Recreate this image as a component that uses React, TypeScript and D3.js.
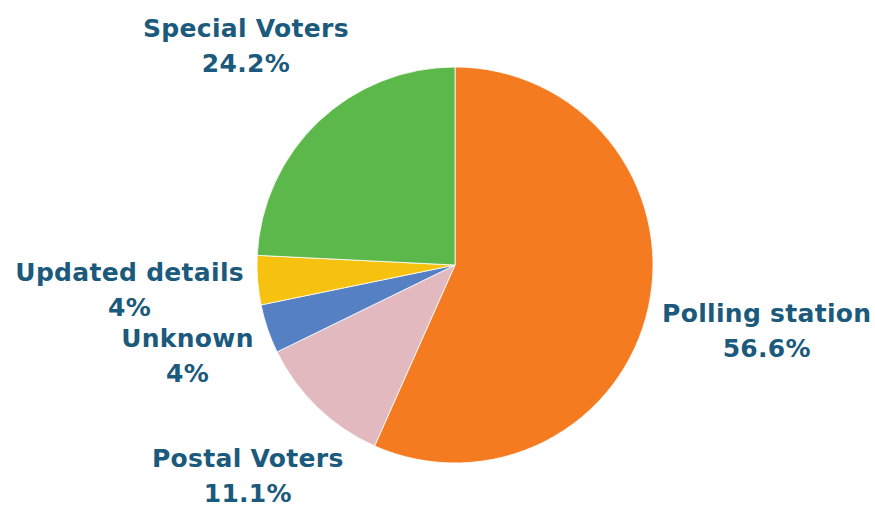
import React, { useEffect, useRef } from 'react';
import * as d3 from 'd3';

const categories = ['Polling station', 'Postal Voters', 'Unknown', 'Updated details', 'Special Voters'];
const shares = [56.6, 11.1, 4, 4, 24.2];
const sliceColors = ['#f47b20', '#e3b9c0', '#5581c4', '#f7c10f', '#5cb84a'];

const width = 875;
const height = 509;

export default function App() {
  const svgRef = useRef<SVGSVGElement>(null);

  useEffect(() => {
    if (!svgRef.current) return;
    const svg = d3.select(svgRef.current);
    svg.selectAll('*').remove();

    const cx = 455;
    const cy = 265;
    const radius = 198;

    const data = categories.map((name, i) => ({ name, value: shares[i], color: sliceColors[i] }));

    const pie = d3.pie<any>()
      .value(d => d.value)
      .sort(null);

    const arc = d3.arc<any>()
      .innerRadius(0)
      .outerRadius(radius);

    const g = svg.append('g')
      .attr('transform', `translate(${cx}, ${cy})`);

    const arcs = pie(data);

    g.selectAll('path')
      .data(arcs)
      .enter()
      .append('path')
      .attr('d', arc)
      .attr('fill', d => d.data.color)
      .attr('stroke', '#ffffff')
      .attr('stroke-width', 0.8);

    // Labels: two lines, pushed outward along the slice's mid angle
    // until the text block clears the pie edge
    const lineGap = 35;
    arcs.forEach(a => {
      const mid = (a.startAngle + a.endAngle) / 2;
      const dx = Math.sin(mid);
      const dy = -Math.cos(mid);

      const label = g.append('g');
      const t = label.append('text')
        .attr('text-anchor', 'middle')
        .style('font-family', '"DejaVu Sans", sans-serif')
        .style('font-weight', 700)
        .style('font-size', '25px')
        .style('letter-spacing', '0.3px')
        .style('fill', '#1b5a7c');

      t.append('tspan')
        .attr('x', 0)
        .attr('y', -lineGap / 2)
        .attr('dy', '0.35em')
        .text(a.data.name);
      t.append('tspan')
        .attr('x', 0)
        .attr('y', lineGap / 2)
        .attr('dy', '0.35em')
        .text(`${a.data.value}%`);

      const box = (t.node() as SVGTextElement).getBBox();
      const w = box.width;
      const h = lineGap + 26;
      const reach = Math.abs(dx) * w / 2 + Math.abs(dy) * h / 2;
      const dist = radius + 12 + reach;
      let ty = dy * dist;
      // keep the block inside the picture
      const bottom = cy + ty + box.y + box.height;
      if (bottom > height - 1) ty -= bottom - (height - 1);
      const top = cy + ty + box.y;
      if (top < 1) ty += 1 - top;
      label.attr('transform', `translate(${dx * dist}, ${ty})`);
    });
  }, []);

  return (
    <div style={{ position: 'absolute', left: 0, top: 0, background: '#ffffff' }}>
      <svg ref={svgRef} width={width} height={height} style={{ display: 'block' }}></svg>
    </div>
  );
}
